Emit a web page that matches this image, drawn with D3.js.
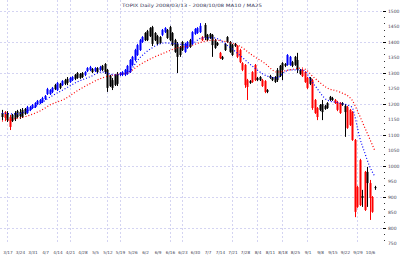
<!DOCTYPE html>
<html>
<head>
<meta charset="utf-8">
<script src="https://cdn.jsdelivr.net/npm/d3@7"></script>
<style>
  html, body { margin: 0; padding: 0; background: #fff; }
  #vis text { font-family: "DejaVu Sans", sans-serif; }
</style>
</head>
<body>
<div id="vis"></div>
<script>
// daily candles: [open, high, low, close, trend]  trend 1 = up, -1 = down, 0 = neutral
const candles = [
  [1158,1181,1148,1171,0],[1174,1177,1148,1155,-1],[1148,1177,1142,1168,0],[1158,1165,1116,1126,-1],
  [1145,1168,1142,1165,0],[1152,1177,1145,1171,0],[1158,1181,1155,1177,0],[1161,1184,1152,1174,0],
  [1158,1187,1155,1181,0],[1168,1187,1165,1184,0],[1171,1194,1168,1190,1],[1181,1194,1177,1190,1],
  [1187,1200,1184,1197,1],[1190,1206,1187,1203,1],[1200,1213,1197,1210,1],[1203,1216,1200,1213,1],
  [1206,1223,1203,1219,1],[1216,1229,1213,1226,1],[1232,1252,1229,1248,1],[1232,1248,1229,1245,1],
  [1239,1255,1235,1252,1],[1248,1265,1245,1261,0],[1245,1271,1242,1268,1],[1252,1268,1248,1265,0],
  [1261,1277,1258,1274,1],[1265,1281,1261,1277,0],[1268,1287,1261,1281,0],[1271,1287,1268,1284,1],
  [1277,1290,1274,1287,1],[1281,1297,1277,1294,0],[1284,1303,1281,1300,0],[1284,1300,1281,1297,0],
  [1287,1303,1284,1300,0],[1294,1306,1290,1303,1],[1306,1319,1303,1316,1],[1310,1323,1306,1319,1],
  [1303,1316,1300,1313,0],[1306,1319,1303,1316,1],[1303,1319,1300,1316,0],[1310,1323,1306,1319,1],
  [1310,1326,1306,1323,0],[1303,1332,1297,1329,0],[1310,1313,1239,1252,0],[1258,1294,1255,1290,0],
  [1252,1284,1245,1277,0],[1261,1297,1258,1294,0],[1265,1303,1258,1297,0],[1294,1303,1290,1300,1],
  [1294,1306,1290,1303,1],[1294,1313,1290,1310,1],[1297,1326,1294,1323,1],[1303,1345,1300,1342,1],
  [1326,1355,1323,1352,1],[1342,1378,1338,1374,1],[1358,1394,1355,1390,1],[1374,1410,1371,1406,1],
  [1400,1419,1397,1416,1],[1406,1432,1403,1429,0],[1406,1439,1403,1435,0],[1419,1448,1416,1445,0],
  [1448,1452,1387,1394,0],[1406,1432,1403,1429,0],[1394,1423,1390,1419,0],[1397,1419,1394,1416,0],
  [1423,1442,1419,1439,1],[1432,1448,1429,1445,1],[1413,1442,1410,1439,0],[1406,1452,1403,1448,0],
  [1429,1432,1387,1390,0],[1406,1410,1365,1368,0],[1394,1400,1300,1352,0],[1358,1387,1352,1384,0],
  [1374,1403,1371,1400,0],[1368,1397,1365,1394,1],[1381,1403,1378,1400,1],[1384,1410,1381,1406,0],
  [1394,1435,1390,1432,1],[1426,1445,1423,1442,1],[1429,1448,1426,1445,1],[1432,1461,1429,1452,1],
  [1416,1419,1403,1406,-1],[1413,1461,1406,1455,0],[1406,1426,1403,1423,0],[1413,1429,1410,1426,0],
  [1423,1426,1352,1390,0],[1381,1410,1378,1406,0],[1390,1400,1387,1397,0],[1365,1368,1345,1348,-1],
  [1345,1355,1342,1352,0],[1374,1397,1371,1394,0],[1400,1419,1397,1416,0],[1400,1403,1365,1368,0],
  [1358,1394,1355,1390,0],[1387,1397,1384,1394,0],[1387,1390,1348,1352,-1],[1374,1378,1332,1335,-1],
  [1332,1335,1306,1310,-1],[1326,1329,1252,1261,-1],[1277,1281,1213,1255,-1],[1268,1277,1265,1274,0],
  [1303,1306,1268,1271,-1],[1326,1329,1274,1277,-1],[1277,1287,1274,1284,0],[1277,1290,1274,1287,0],
  [1277,1281,1255,1258,-1],[1274,1277,1235,1239,-1],[1239,1248,1235,1245,0],[1284,1294,1281,1290,0],
  [1277,1287,1274,1284,0],[1271,1290,1268,1287,0],[1277,1316,1271,1310,0],[1290,1326,1287,1323,0],
  [1310,1335,1277,1332,0],[1323,1332,1319,1329,0],[1326,1361,1323,1358,1],[1326,1355,1323,1352,1],
  [1323,1339,1319,1335,0],[1326,1355,1323,1352,0],[1310,1365,1300,1342,0],[1297,1313,1294,1310,0],
  [1310,1313,1287,1290,-1],[1303,1306,1268,1271,-1],[1284,1287,1248,1252,-1],[1265,1287,1261,1284,0],
  [1277,1281,1181,1187,-1],[1213,1216,1168,1171,-1],[1187,1190,1148,1158,-1],[1181,1200,1177,1197,0],
  [1174,1213,1148,1200,0],[1184,1197,1181,1194,0],[1187,1206,1184,1203,0],[1213,1226,1210,1223,0],
  [1213,1223,1210,1219,0],[1213,1216,1200,1203,-1],[1206,1210,1177,1181,-1],[1203,1206,1168,1171,-1],
  [1197,1206,1194,1203,0],[1174,1200,1094,1194,0],[1190,1194,1120,1123,-1],[1181,1184,1129,1132,-1],
  [1174,1177,1081,1084,-1],[1084,1087,835,852,-1],[932,936,865,868,-1],[1019,1023,871,874,-1],
  [897,923,868,903,0],[981,984,855,858,-1],[945,997,868,981,0],[945,955,826,897,-1],
  [900,903,849,852,-1],[929,936,923,932,0]
];

// moving averages: [day index, value]
const maShort = [
  [0,1171],[5,1168],[10,1177],[15,1200],[20,1226],[25,1248],[30,1271],[35,1287],[40,1303],
  [45,1294],[50,1300],[55,1348],[60,1381],[65,1397],[70,1394],[75,1390],[80,1413],[85,1413],
  [90,1390],[95,1358],[100,1323],[105,1294],[110,1284],[113,1303],[115,1310],[120,1310],
  [125,1261],[130,1213],[135,1203],[140,1190],[141,1165],[143,1094],[145,1045],[147,1000],[149,968]
];
const maLong = [
  [0,1145],[5,1152],[10,1161],[15,1177],[20,1200],[25,1216],[30,1242],[35,1265],[40,1284],
  [45,1294],[50,1300],[55,1326],[60,1348],[65,1365],[70,1381],[75,1387],[80,1400],[85,1406],
  [90,1400],[95,1387],[100,1358],[105,1332],[110,1303],[115,1310],[120,1316],[125,1284],
  [130,1252],[135,1239],[140,1213],[142,1181],[145,1126],[149,1052]
];

const tickDays = [2,7,12,17,22,27,32,37,42,47,52,57,62,67,72,77,82,87,92,97,102,107,112,117,122,127,132,137,142,147];
const tickLabels = ["3/17","3/24","3/31","4/7","4/14","4/21","4/28","5/5","5/12","5/19","5/26","6/2","6/9","6/16","6/23",
  "6/30","7/7","7/14","7/21","7/28","8/4","8/11","8/18","8/25","9/1","9/8","9/15","9/22","9/29","10/6"];
const gridDays = [2,22,27,42,47,67,72,92,102,112,122,142];
const priceTicks = d3.range(750, 1501, 50);
const priceGrid = d3.range(800, 1501, 100);

const title = "TOPIX Daily 2008/03/13 - 2008/10/08  MA10 / MA25";

const width = 400, height = 257;
const svg = d3.select("#vis").append("svg")
    .attr("width", width)
    .attr("height", height);

svg.append("rect").attr("width", width).attr("height", height).attr("fill", "#fff");

const x = d3.scaleBand()
    .domain(d3.range(candles.length))
    .range([0.75, 375.75]);
const cx = i => x(i) + x.bandwidth() / 2;

const y = d3.scaleLinear()
    .domain([750, 1500])
    .range([243.5, 11]);

const color = d3.scaleOrdinal().domain([1, -1, 0]).range(["#0000ff", "#ff0000", "#000000"]);

// grid
const grid = svg.append("g").attr("stroke", "#d4d4f2").attr("stroke-dasharray", "2,2").attr("stroke-width", 1);
grid.selectAll("line.h")
    .data(priceGrid)
    .enter().append("line")
    .attr("class", "h")
    .attr("x1", 0).attr("x2", 382)
    .attr("y1", d => Math.round(y(d)) + 0.5)
    .attr("y2", d => Math.round(y(d)) + 0.5);
grid.selectAll("line.v")
    .data(gridDays)
    .enter().append("line")
    .attr("class", "v")
    .attr("x1", d => Math.round(cx(d)) + 0.5)
    .attr("x2", d => Math.round(cx(d)) + 0.5)
    .attr("y1", 0).attr("y2", 243);

// candles
const c = svg.append("g");
c.selectAll("line.wick")
    .data(candles)
    .enter().append("line")
    .attr("class", "wick")
    .attr("x1", (d, i) => Math.round(cx(i)) + 0.5)
    .attr("x2", (d, i) => Math.round(cx(i)) + 0.5)
    .attr("y1", d => y(d[1]))
    .attr("y2", d => y(d[2]))
    .attr("stroke", d => color(d[4]))
    .attr("stroke-width", 1);
c.selectAll("rect.body")
    .data(candles)
    .enter().append("rect")
    .attr("class", "body")
    .attr("x", (d, i) => Math.round(cx(i)) - 0.5)
    .attr("width", 2)
    .attr("y", d => y(Math.max(d[0], d[3])))
    .attr("height", d => Math.max(1, Math.abs(y(d[0]) - y(d[3]))))
    .attr("fill", d => color(d[4]));

// moving averages, dotted
const line = d3.line()
    .x(d => cx(d[0]))
    .y(d => y(d[1]))
    .curve(d3.curveMonotoneX);
svg.append("path")
    .datum(maLong)
    .attr("d", line)
    .attr("fill", "none")
    .attr("stroke", "#ff0000")
    .attr("stroke-width", 1.2)
    .attr("stroke-dasharray", "1,2");
svg.append("path")
    .datum(maShort)
    .attr("d", line)
    .attr("fill", "none")
    .attr("stroke", "#0000ff")
    .attr("stroke-width", 1.2)
    .attr("stroke-dasharray", "1,2");

// right axis
const ax = svg.append("g");
ax.selectAll("line.minor")
    .data(d3.range(760, 1500, 20))
    .enter().append("line")
    .attr("class", "minor")
    .attr("x1", 384).attr("x2", 385)
    .attr("y1", d => Math.round(y(d)) + 0.5)
    .attr("y2", d => Math.round(y(d)) + 0.5)
    .attr("stroke", "#333");
ax.selectAll("line.major")
    .data(priceGrid)
    .enter().append("line")
    .attr("class", "major")
    .attr("x1", 383).attr("x2", 386)
    .attr("y1", d => Math.round(y(d)) + 0.5)
    .attr("y2", d => Math.round(y(d)) + 0.5)
    .attr("stroke", "#000");
ax.selectAll("text")
    .data(priceTicks)
    .enter().append("text")
    .attr("x", 388)
    .attr("y", d => y(d) + 1.6)
    .attr("font-size", "4.5px")
    .attr("fill", "#445")
    .text(d => d);

// bottom labels
svg.append("g").selectAll("text")
    .data(tickDays)
    .enter().append("text")
    .attr("x", d => cx(d) + 1)
    .attr("y", 254)
    .attr("text-anchor", "middle")
    .attr("font-size", "4.2px")
    .attr("fill", "#445")
    .text((d, i) => tickLabels[i]);

// title
svg.append("text")
    .attr("x", 122)
    .attr("y", 6.5)
    .attr("textLength", 140)
    .attr("lengthAdjust", "spacingAndGlyphs")
    .attr("font-size", "4.5px")
    .attr("fill", "#335")
    .text(title);
</script>
</body>
</html>
